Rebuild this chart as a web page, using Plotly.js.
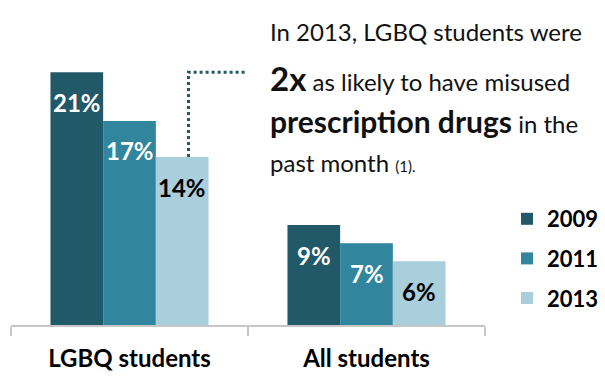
<!DOCTYPE html>
<html>
<head>
<meta charset="utf-8">
<script src="https://cdn.plot.ly/plotly-3.0.1.min.js"></script>
<style>html,body{margin:0;padding:0;background:#fff;}#chart{width:605px;height:382px;}</style>
</head>
<body>
<div id="chart"></div>
<script>
// ---- data ----
const categories = ['LGBQ students', 'All students'];
const years = ['2009', '2011', '2013'];
const values2009 = [21.0, 8.3];
const values2011 = [16.95, 6.8];
const values2013 = [13.95, 5.3];
const labels2009 = ['21%', '9%'];
const labels2011 = ['17%', '7%'];
const labels2013 = ['14%', '6%'];
const calloutLines = [
  'In 2013, LGBQ students were',
  '<b><span style="font-size:33px">2x</span></b> as likely to have misused',
  '<b><span style="font-size:30px">prescription drugs</span></b> in the',
  'past month <span style="font-size:15px">(1).</span>'
];

// ---- styles ----
const colors = ['#215968', '#31859C', '#A9CEDC'];
const labelColors = ['#ffffff', '#ffffff', '#000000'];
const FONT = 'Lato, "Open Sans", sans-serif';

const W = 605, H = 382;
const M = {l: 11, r: 120, t: 24, b: 57, autoexpand: false};
const PW = W - M.l - M.r, PH = H - M.t - M.b;
const px = x => (x - M.l) / PW;
const py = y => (H - M.b - y) / PH;

const series = [values2009, values2011, values2013];
const labels = [labels2009, labels2011, labels2013];
const bargap = 0.333;

const traces = series.map((vals, i) => ({
  type: 'bar',
  name: years[i],
  legendgroup: years[i],
  x: categories,
  y: vals,
  marker: {color: colors[i], line: {width: 0}},
  hoverinfo: 'skip'
}));

const perBar = (1 - bargap) / series.length;
const annotations = [];
series.forEach((vals, i) => {
  const off = (i - (series.length - 1) / 2) * perBar;
  vals.forEach((v, j) => {
    annotations.push({
      xref: 'x', yref: 'y', x: j + off, y: v, yanchor: 'middle', yshift: -30,
      text: '<b>' + labels[i][j] + '</b>', showarrow: false,
      font: {family: FONT, size: 24, color: labelColors[i]}
    });
  });
});

const lineY = [31, 78, 121, 162];
calloutLines.forEach((t, k) => {
  annotations.push({
    xref: 'paper', yref: 'paper', x: px(268), y: py(lineY[k]),
    xanchor: 'left', yanchor: 'middle', text: t, showarrow: false,
    font: {family: FONT, size: 24, color: '#111111'}
  });
});

const layout = {
  width: W, height: H,
  margin: M,
  paper_bgcolor: '#ffffff', plot_bgcolor: '#ffffff',
  barmode: 'group', bargap: bargap, bargroupgap: 0,
  showlegend: true,
  legend: {
    x: px(507), y: py(198), xanchor: 'left', yanchor: 'top',
    traceorder: 'grouped', tracegroupgap: 8,
    font: {family: FONT, size: 22, color: '#000000', weight: 'bold'},
    bgcolor: 'rgba(0,0,0,0)'
  },
  xaxis: {
    type: 'category', categoryarray: categories, range: [-0.5, 1.5],
    tickson: 'boundaries', ticks: 'outside', ticklen: 9, tickwidth: 2, tickcolor: '#C6C6C6',
    showline: true, linecolor: '#C6C6C6', linewidth: 2,
    showgrid: false, zeroline: false, ticklabelstandoff: 11,
    tickfont: {family: FONT, size: 24, color: '#000000', weight: 'bold'}
  },
  yaxis: {range: [0, 25], visible: false, showgrid: false, zeroline: false, fixedrange: true},
  shapes: [{
    type: 'path', xref: 'paper', yref: 'y',
    path: 'M' + px(188.5) + ',' + values2013[0] + ' L' + px(188.5) + ',' + values2009[0] + ' L' + px(247) + ',' + values2009[0],
    line: {color: '#215968', width: 3, dash: 'dot'}
  }],
  annotations: annotations
};

Plotly.newPlot('chart', traces, layout, {displayModeBar: false, staticPlot: true});
</script>
</body>
</html>
